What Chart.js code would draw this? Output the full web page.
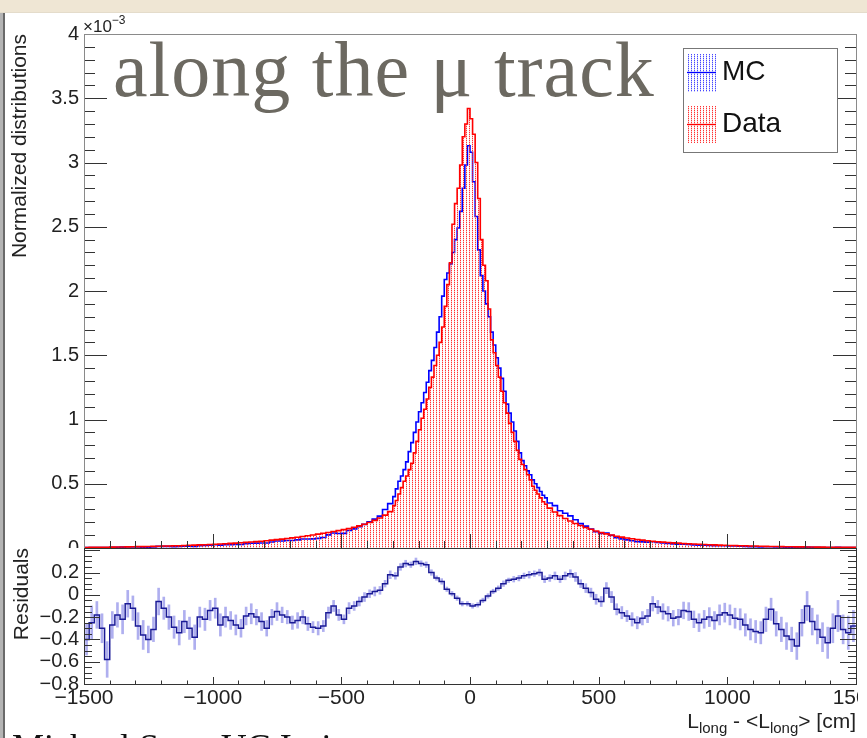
<!DOCTYPE html>
<html><head><meta charset="utf-8">
<script src="https://cdn.jsdelivr.net/npm/chart.js@4.4.1/dist/chart.umd.min.js"></script>
<style>
html,body{margin:0;padding:0;background:#fff;}
#page{position:relative;width:867px;height:738px;overflow:hidden;background:#fff;font-family:"Liberation Sans",Arial,sans-serif;}
#topStrip{position:absolute;left:0;top:0;width:867px;height:12px;background:#efe6d4;border-bottom:1px solid #e4dccb;}
#leftBar{position:absolute;left:0;top:13px;width:3px;height:725px;background:#b4b4b4;border-right:2px solid #6a6a6a;z-index:5;}
#cTop{position:absolute;left:0;top:0;}
#cRes{position:absolute;left:0;top:548px;background:#fff;}
.txt{position:absolute;white-space:nowrap;z-index:6;}
#expo{left:83px;top:18px;font-size:17px;line-height:17px;color:#222;}
#expo span{position:relative;top:-8px;font-size:12px;}
#xtitle{right:11px;top:710px;font-size:21px;line-height:21px;color:#222;}
#xtitle span{position:relative;top:5px;font-size:15px;}
#slideTitle{left:113px;top:31px;font-family:"Liberation Serif","Times New Roman",serif;font-size:78px;line-height:78px;letter-spacing:1px;color:#6c6961;}
#author{left:12px;top:729px;font-family:"Liberation Serif","Times New Roman",serif;font-size:36px;line-height:36px;color:#111;}
</style></head>
<body>
<div id="page">
<div id="topStrip"></div>
<canvas id="cTop" width="858" height="560"></canvas>
<canvas id="cRes" width="858" height="190"></canvas>
<div id="leftBar"></div>
<div class="txt" id="expo">×10<span>−3</span></div>
<div class="txt" id="xtitle">L<span>long</span> - &lt;L<span>long</span>&gt; [cm]</div>
<div class="txt" id="slideTitle">along the μ track</div>
<div class="txt" id="author">Michael Smy, UC Irvine</div>
</div>
<script>
// ---------------- data (values in units of 1e-3) ----------------
const xTicks = [-1500, -1000, -500, 0, 500, 1000, 1500];
const topYTicks = [0, 0.5, 1, 1.5, 2, 2.5, 3, 3.5, 4];
const resYTicks = [-0.8, -0.6, -0.4, -0.2, 0, 0.2];

// Data (red): 20 cm bins -1500..-300, 10 cm bins -300..300, 20 cm bins 300..1500
const dataTailLeft = [0.004,0.005,0.005,0.006,0.006,0.007,0.008,0.008,0.009,0.010,
 0.011,0.011,0.012,0.013,0.014,0.015,0.016,0.017,0.018,0.019,
 0.021,0.022,0.024,0.025,0.027,0.029,0.031,0.033,0.036,0.038,
 0.041,0.044,0.047,0.050,0.053,0.057,0.061,0.065,0.069,0.074,
 0.079,0.084,0.089,0.095,0.101,0.108,0.115,0.121,0.128,0.135,
 0.143,0.151,0.161,0.172,0.185,0.199,0.215,0.233,0.256,0.283];
const dataCore = [0.33,0.37,0.42,0.47,0.52,0.56,0.61,0.66,0.74,0.83,
 0.92,1.01,1.08,1.16,1.25,1.33,1.42,1.50,1.60,1.72,
 1.88,2.05,2.22,2.52,2.68,2.80,2.98,3.20,3.30,3.42,
 3.34,3.22,3.00,2.72,2.40,2.20,2.08,1.86,1.62,1.52,
 1.42,1.33,1.22,1.13,1.05,0.97,0.90,0.83,0.76,0.69,
 0.65,0.61,0.57,0.53,0.48,0.45,0.42,0.39,0.36,0.34];
const dataTailRight = [0.310,0.280,0.252,0.230,0.210,0.191,0.175,0.160,0.146,0.132,
 0.120,0.110,0.101,0.092,0.085,0.078,0.072,0.066,0.061,0.057,
 0.053,0.049,0.046,0.043,0.040,0.038,0.035,0.033,0.031,0.029,
 0.027,0.025,0.024,0.022,0.021,0.020,0.019,0.018,0.017,0.016,
 0.015,0.014,0.013,0.012,0.012,0.011,0.010,0.010,0.009,0.009,
 0.008,0.008,0.007,0.007,0.006,0.006,0.006,0.005,0.005,0.005];

// MC (blue), same binning
const mcTailLeft = [0.003,0.004,0.004,0.004,0.003,0.005,0.006,0.007,0.008,0.009,
 0.008,0.007,0.007,0.009,0.013,0.013,0.013,0.011,0.012,0.014,
 0.014,0.013,0.018,0.019,0.022,0.025,0.022,0.026,0.026,0.027,
 0.027,0.034,0.037,0.038,0.039,0.039,0.047,0.054,0.055,0.058,
 0.058,0.063,0.070,0.070,0.071,0.075,0.082,0.102,0.117,0.113,
 0.114,0.136,0.149,0.165,0.184,0.204,0.225,0.248,0.300,0.345];
const mcCore = [0.40,0.46,0.52,0.56,0.61,0.67,0.75,0.82,0.90,0.98,
 1.06,1.13,1.21,1.29,1.38,1.46,1.56,1.68,1.80,1.96,
 2.09,2.14,2.21,2.30,2.40,2.49,2.62,2.80,2.98,3.13,
 3.08,2.85,2.58,2.32,2.12,2.00,1.90,1.80,1.68,1.58,
 1.48,1.40,1.32,1.22,1.12,1.05,0.98,0.91,0.83,0.74,
 0.68,0.64,0.60,0.57,0.53,0.50,0.47,0.44,0.41,0.39];
const mcTailRight = [0.350,0.330,0.290,0.270,0.250,0.220,0.190,0.170,0.148,0.127,
 0.113,0.117,0.098,0.080,0.071,0.063,0.056,0.050,0.048,0.046,
 0.049,0.044,0.039,0.036,0.032,0.030,0.030,0.028,0.024,0.022,
 0.021,0.020,0.018,0.018,0.018,0.016,0.015,0.014,0.012,0.011,
 0.010,0.009,0.010,0.010,0.009,0.008,0.006,0.006,0.005,0.007,
 0.007,0.006,0.005,0.004,0.003,0.004,0.005,0.003,0.003,0.004];

// Residuals, 20 cm bins from -1500 to 1500
const residuals = [-0.40,-0.25,-0.18,-0.30,-0.58,-0.27,-0.18,-0.22,-0.08,-0.12,
 -0.28,-0.36,-0.40,-0.31,-0.06,-0.12,-0.20,-0.29,-0.34,-0.24,
 -0.30,-0.38,-0.20,-0.22,-0.14,-0.12,-0.27,-0.20,-0.23,-0.27,
 -0.30,-0.19,-0.17,-0.20,-0.24,-0.30,-0.20,-0.15,-0.18,-0.20,
 -0.25,-0.23,-0.20,-0.26,-0.29,-0.30,-0.28,-0.16,-0.10,-0.18,
 -0.22,-0.12,-0.10,-0.06,-0.02,0.01,0.03,0.04,0.10,0.18,
 0.17,0.25,0.28,0.27,0.30,0.28,0.27,0.20,0.15,0.12,
 0.05,0.01,-0.03,-0.08,-0.08,-0.10,-0.09,-0.05,-0.01,0.03,
 0.06,0.10,0.13,0.14,0.15,0.17,0.18,0.19,0.20,0.14,
 0.15,0.17,0.14,0.17,0.19,0.16,0.10,0.06,0.02,-0.04,
 -0.06,0.06,-0.02,-0.13,-0.16,-0.19,-0.22,-0.25,-0.21,-0.19,
 -0.08,-0.11,-0.15,-0.17,-0.21,-0.20,-0.14,-0.15,-0.22,-0.25,
 -0.22,-0.20,-0.23,-0.18,-0.16,-0.18,-0.21,-0.22,-0.27,-0.31,
 -0.33,-0.34,-0.22,-0.13,-0.26,-0.31,-0.37,-0.40,-0.46,-0.25,
 -0.10,-0.24,-0.31,-0.38,-0.43,-0.30,-0.19,-0.31,-0.34,-0.28];
const residualErrors = [0.14,0.15,0.12,0.13,0.16,0.12,0.11,0.13,0.12,0.11,
 0.12,0.13,0.12,0.11,0.12,0.10,0.11,0.10,0.11,0.10,
 0.10,0.11,0.09,0.10,0.09,0.09,0.10,0.09,0.08,0.09,
 0.08,0.08,0.09,0.07,0.08,0.07,0.07,0.08,0.07,0.06,
 0.06,0.07,0.06,0.06,0.05,0.06,0.05,0.05,0.05,0.05,
 0.04,0.05,0.04,0.04,0.04,0.035,0.04,0.035,0.03,0.035,
 0.03,0.03,0.03,0.025,0.03,0.025,0.025,0.025,0.02,0.025,
 0.02,0.02,0.02,0.02,0.02,0.02,0.02,0.02,0.02,0.02,
 0.02,0.025,0.02,0.025,0.025,0.025,0.03,0.025,0.03,0.03,
 0.03,0.035,0.03,0.035,0.035,0.04,0.035,0.04,0.04,0.045,
 0.045,0.05,0.05,0.05,0.055,0.05,0.06,0.055,0.06,0.06,
 0.065,0.06,0.07,0.065,0.07,0.07,0.075,0.08,0.075,0.08,
 0.08,0.085,0.08,0.09,0.085,0.09,0.09,0.095,0.10,0.095,
 0.10,0.10,0.11,0.10,0.11,0.11,0.12,0.11,0.12,0.12,
 0.13,0.12,0.13,0.13,0.14,0.13,0.14,0.13,0.15,0.14];

// ---------------- bin structure ----------------
const histEdges = [];
for (let i = 0; i < 60; i++) histEdges.push(-1500 + 20 * i);
for (let i = 0; i < 60; i++) histEdges.push(-300 + 10 * i);
for (let i = 0; i < 60; i++) histEdges.push(300 + 20 * i);
const resEdges = [];
for (let i = 0; i < 150; i++) resEdges.push(-1500 + 20 * i);

function histPoints(values, edges) {
  const pts = edges.map((e, i) => ({x: e, y: values[i]}));
  pts.push({x: 1500, y: values[values.length - 1]});
  return pts;
}
const dataValues = dataTailLeft.concat(dataCore, dataTailRight);
const mcValues = mcTailLeft.concat(mcCore, mcTailRight);

const fmt = v => { const r = Math.round(v * 100) / 100; return (r < 0 ? '\u2212' : '') + String(Math.abs(r)); };

function makePattern(strong, weak) {
  const c = document.createElement('canvas');
  c.width = 3; c.height = 2;
  const g = c.getContext('2d');
  g.fillStyle = strong; g.fillRect(1, 0, 1, 1);
  g.fillStyle = weak; g.fillRect(1, 1, 1, 1);
  return g.createPattern(c, 'repeat');
}
const redPat = makePattern('rgba(255,30,30,0.9)', 'rgba(255,80,80,0.35)');
const bluePat = makePattern('rgba(40,40,255,0.85)', 'rgba(90,90,255,0.35)');

// ---------------- plugins ----------------
const rootFrame = {
  id: 'rootFrame',
  afterDatasetsDraw(chart, args, o) {
    const {ctx, chartArea: a, scales: {x, y}} = chart;
    const p = v => Math.round(v) + 0.5;
    ctx.save();
    ctx.lineWidth = 1;
    ctx.strokeStyle = o.tickColor;
    ctx.beginPath();
    const ny = Math.round((y.max - y.min) / o.yMinor);
    for (let k = 0; k <= ny; k++) {
      const v = y.min + k * o.yMinor;
      if (v > y.max + 1e-9) break;
      const q = v / o.yMajor;
      const major = Math.abs(q - Math.round(q)) < 1e-6;
      const len = major ? o.yMajorLen : o.yMinorLen;
      const py = p(y.getPixelForValue(v));
      ctx.moveTo(a.left, py); ctx.lineTo(a.left + len, py);
      ctx.moveTo(a.right, py); ctx.lineTo(a.right - len, py);
    }
    const nx = Math.round((x.max - x.min) / o.xMinor);
    for (let k = 0; k <= nx; k++) {
      const v = x.min + k * o.xMinor;
      const major = (v % o.xMajor) === 0;
      const len = major ? o.xMajorLen : o.xMinorLen;
      const px = p(x.getPixelForValue(v));
      ctx.moveTo(px, a.bottom); ctx.lineTo(px, a.bottom - len);
    }
    ctx.stroke();
    ctx.strokeStyle = o.frameColor;
    ctx.strokeRect(p(a.left), p(a.top), Math.round(a.right) - Math.round(a.left), Math.round(a.bottom) - Math.round(a.top));
    if (o.bottomColor) {
      ctx.strokeStyle = o.bottomColor;
      ctx.beginPath(); ctx.moveTo(a.left, p(a.bottom)); ctx.lineTo(a.right + 1, p(a.bottom)); ctx.stroke();
    }
    ctx.restore();
  }
};

const rootLegend = {
  id: 'rootLegend',
  afterDraw(chart, args, o) {
    const {ctx, chartArea: a} = chart;
    const bx = a.right - 173, by = a.top + 14, bw = 154, bh = 104;
    ctx.save();
    ctx.fillStyle = '#fff';
    ctx.fillRect(bx, by, bw, bh);
    ctx.strokeStyle = '#777';
    ctx.lineWidth = 1;
    ctx.strokeRect(bx + 0.5, by + 0.5, bw, bh);
    const order = ['MC', 'Data'];
    const rows = [{top: by + 6, h: 38, mid: by + 24.5}, {top: by + 58, h: 37, mid: by + 76.5}];
    order.forEach((lab, i) => {
      const ds = chart.data.datasets.find(d => d.label === lab);
      const r = rows[i];
      ctx.fillStyle = ds.backgroundColor;
      ctx.fillRect(bx + 4, r.top, 29, r.h);
      ctx.strokeStyle = ds.borderColor;
      ctx.lineWidth = 1.3;
      ctx.beginPath(); ctx.moveTo(bx + 4, r.mid); ctx.lineTo(bx + 33, r.mid); ctx.stroke();
      ctx.fillStyle = '#111';
      ctx.font = '28px "Liberation Sans", Arial, sans-serif';
      ctx.textBaseline = 'middle';
      ctx.textAlign = 'left';
      ctx.fillText(lab, bx + 39, r.mid);
    });
    ctx.restore();
  }
};

const tickFont = {family: '"Liberation Sans", Arial, sans-serif', size: 20};
const titleFont = {family: '"Liberation Sans", Arial, sans-serif', size: 21};

// ---------------- top panel ----------------
new Chart(document.getElementById('cTop'), {
  type: 'line',
  data: {datasets: [
    {label: 'Data', data: histPoints(dataValues, histEdges), borderColor: '#ff0000', borderWidth: 1.6,
     backgroundColor: redPat, fill: 'origin', stepped: true, pointRadius: 0, order: 1},
    {label: 'MC', data: histPoints(mcValues, histEdges), borderColor: '#0000ff', borderWidth: 1.6,
     backgroundColor: bluePat, fill: false, stepped: true, pointRadius: 0, order: 2}
  ]},
  options: {
    responsive: false, animation: false, events: [],
    layout: {padding: {left: 0, top: 34, right: 2, bottom: 12}},
    plugins: {
      legend: {display: false}, tooltip: {enabled: false},
      rootFrame: {yMajor: 0.5, yMinor: 0.1, yMajorLen: 23, yMinorLen: 11,
                  xMajor: 500, xMinor: 100, xMajorLen: 14, xMinorLen: 7,
                  tickColor: '#333', frameColor: '#8a8a8a', bottomColor: '#222'}
    },
    scales: {
      x: {type: 'linear', min: -1500, max: 1500, display: false},
      y: {type: 'linear', min: 0, max: 4,
          grid: {display: false, drawTicks: false}, border: {display: false},
          afterBuildTicks: s => { s.ticks = topYTicks.map(v => ({value: v})); },
          afterFit: s => { s.width = 84; s.paddingTop = 0; s.paddingBottom = 0; },
          ticks: {font: tickFont, color: '#222', padding: 5, autoSkip: false, callback: v => fmt(v)},
          title: {display: true, text: 'Normalized distributions', align: 'end', font: titleFont,
                  color: '#222', padding: {top: 8, bottom: 0}}}
    }
  },
  plugins: [rootFrame, rootLegend]
});

// ---------------- residual panel ----------------
new Chart(document.getElementById('cRes'), {
  type: 'line',
  data: {datasets: [
    {type: 'line', label: 'Residuals', data: histPoints(residuals, resEdges), borderColor: '#1a1a96',
     borderWidth: 1.5, stepped: true, pointRadius: 0, fill: false, order: 1},
    {type: 'bar', label: 'Residual errors',
     data: residuals.map((r, i) => ({x: resEdges[i] + 10, y: [r - residualErrors[i], r + residualErrors[i]]})),
     backgroundColor: 'rgba(110,110,225,0.55)', barThickness: 2, grouped: false, order: 2}
  ]},
  options: {
    responsive: false, animation: false, events: [],
    layout: {padding: {left: 0, top: 0, right: 2, bottom: 0}},
    plugins: {
      legend: {display: false}, tooltip: {enabled: false},
      rootFrame: {yMajor: 0.2, yMinor: 0.05, yMajorLen: 16, yMinorLen: 8,
                  xMajor: 500, xMinor: 100, xMajorLen: 7, xMinorLen: 3.5,
                  tickColor: '#333', frameColor: '#333'}
    },
    scales: {
      x: {type: 'linear', min: -1500, max: 1500, offset: false,
          grid: {display: false, drawTicks: false}, border: {display: false},
          afterBuildTicks: s => { s.ticks = xTicks.map(v => ({value: v})); },
          afterFit: s => { s.height = 54; s.paddingLeft = 0; s.paddingRight = 0; },
          ticks: {font: {family: tickFont.family, size: 21}, color: '#222', padding: 2, maxRotation: 0, minRotation: 0,
                  autoSkip: false, callback: v => fmt(v)}},
      y: {type: 'linear', min: -0.8, max: 0.42,
          grid: {display: false, drawTicks: false}, border: {display: false},
          afterBuildTicks: s => { s.ticks = resYTicks.map(v => ({value: v})); },
          afterFit: s => { s.width = 84; s.paddingTop = 0; s.paddingBottom = 0; },
          ticks: {font: tickFont, color: '#222', padding: 5, autoSkip: false, callback: v => fmt(v)},
          title: {display: true, text: 'Residuals', align: 'end', font: titleFont,
                  color: '#222', padding: {top: 10, bottom: 0}}}
    }
  },
  plugins: [rootFrame]
});
</script>
</body></html>
